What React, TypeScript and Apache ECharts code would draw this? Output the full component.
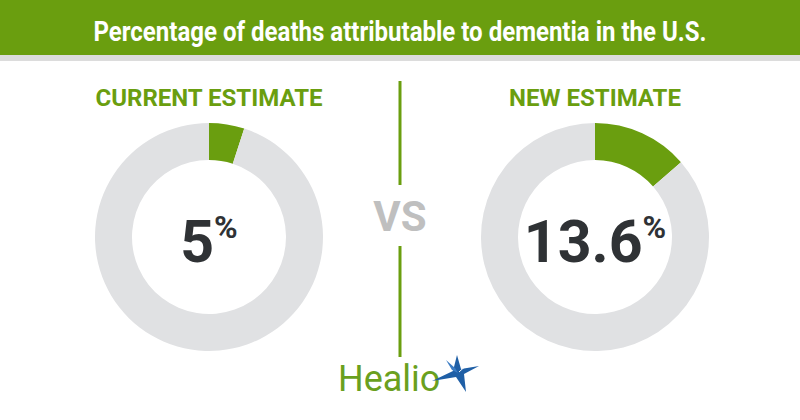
import React, { useEffect, useRef } from "react";
import * as echarts from "echarts";

const headerTitle = "Percentage of deaths attributable to dementia in the U.S.";
const estimateLabels = ["CURRENT ESTIMATE", "NEW ESTIMATE"];
const estimateValues = [5, 13.6];
const valueTexts = ["5", "13.6"];
const vsText = "VS";
const brandText = "Healio";

const GREEN = "#6a9e0f";
const GRAY = "#e0e1e3";
const DARK = "#2f3235";

export default function App() {
  const ref = useRef<HTMLDivElement>(null);
  useEffect(() => {
    if (!ref.current) return;
    const chart = echarts.init(ref.current, null, { renderer: "svg" });
    const centers = [
      [209, 237],
      [595, 237],
    ];
    const series = estimateValues.map((v, i) => ({
      type: "pie",
      silent: true,
      center: centers[i],
      radius: [77, 114],
      startAngle: 90,
      clockwise: true,
      avoidLabelOverlap: false,
      labelLine: { show: false },
      data: [
        {
          value: v,
          name: estimateLabels[i],
          itemStyle: { color: GREEN },
          label: {
            show: true,
            position: "center",
            padding: [8, 0, 0, 0],
            formatter: "{v|" + valueTexts[i] + "}{p|%}",
            rich: {
              v: {
                fontFamily: "Roboto",
                fontWeight: "bold",
                fontSize: 59,
                lineHeight: 60,
                color: DARK,
              },
              p: {
                fontFamily: "Roboto",
                fontWeight: "bold",
                fontSize: 32,
                lineHeight: 60,
                verticalAlign: "top",
                color: DARK,
              },
            },
          },
        },
        {
          value: 100 - v,
          name: "other",
          itemStyle: { color: GRAY },
          label: { show: false },
        },
      ],
    }));

    const titleGraphics = estimateLabels.map((t, i) => ({
      type: "text",
      x: centers[i][0],
      y: 98,
      style: {
        text: t,
        fill: GREEN,
        fontFamily: "Roboto",
        fontWeight: "bold",
        fontSize: 24,
        textAlign: "center",
        textVerticalAlign: "middle",
      },
    }));

    chart.setOption({
      animation: false,
      backgroundColor: "#ffffff",
      series,
      graphic: [
        { type: "rect", shape: { x: 0, y: 0, width: 800, height: 55 }, style: { fill: GREEN } },
        { type: "rect", shape: { x: 0, y: 55, width: 800, height: 6 }, style: { fill: "#dcdcdc" } },
        {
          type: "text",
          x: 400,
          y: 31,
          scaleX: 0.89,
          style: {
            text: headerTitle,
            fill: "#ffffff",
            fontFamily: "Roboto",
            fontWeight: "bold",
            fontSize: 27,
            textAlign: "center",
            textVerticalAlign: "middle",
          },
        },
        ...titleGraphics,
        { type: "line", shape: { x1: 400, y1: 81, x2: 400, y2: 185 }, style: { stroke: GREEN, lineWidth: 3 } },
        { type: "line", shape: { x1: 400, y1: 246, x2: 400, y2: 357 }, style: { stroke: GREEN, lineWidth: 3 } },
        {
          type: "text",
          x: 400,
          y: 216,
          style: {
            text: vsText,
            fill: "#bfbfbf",
            fontFamily: "Roboto",
            fontWeight: "bold",
            fontSize: 42,
            textAlign: "center",
            textVerticalAlign: "middle",
          },
        },
        {
          type: "text",
          x: 338,
          y: 379,
          style: {
            text: brandText,
            fill: "#6aa01e",
            fontFamily: "Roboto",
            fontSize: 36,
            textAlign: "left",
            textVerticalAlign: "middle",
          },
        },
        {
          type: "polygon",
          shape: {
            points: [
              [457, 355],
              [461, 369],
              [479, 366],
              [464, 374],
              [466, 392],
              [456, 377],
              [432, 381],
              [453, 371],
            ],
          },
          style: { fill: "#1f5fa6" },
        },
        {
          type: "polygon",
          shape: {
            points: [
              [446, 360],
              [455, 368],
              [458, 373],
              [452, 370],
            ],
          },
          style: { fill: "#3b7cc4" },
        },
        {
          type: "line",
          shape: { x1: 459, y1: 372, x2: 470, y2: 362 },
          style: { stroke: "#ffffff", lineWidth: 1 },
        },
      ],
    });
    return () => chart.dispose();
  }, []);
  return (
    <div
      ref={ref}
      style={{ position: "fixed", left: 0, top: 0, width: 800, height: 420 }}
    />
  );
}
